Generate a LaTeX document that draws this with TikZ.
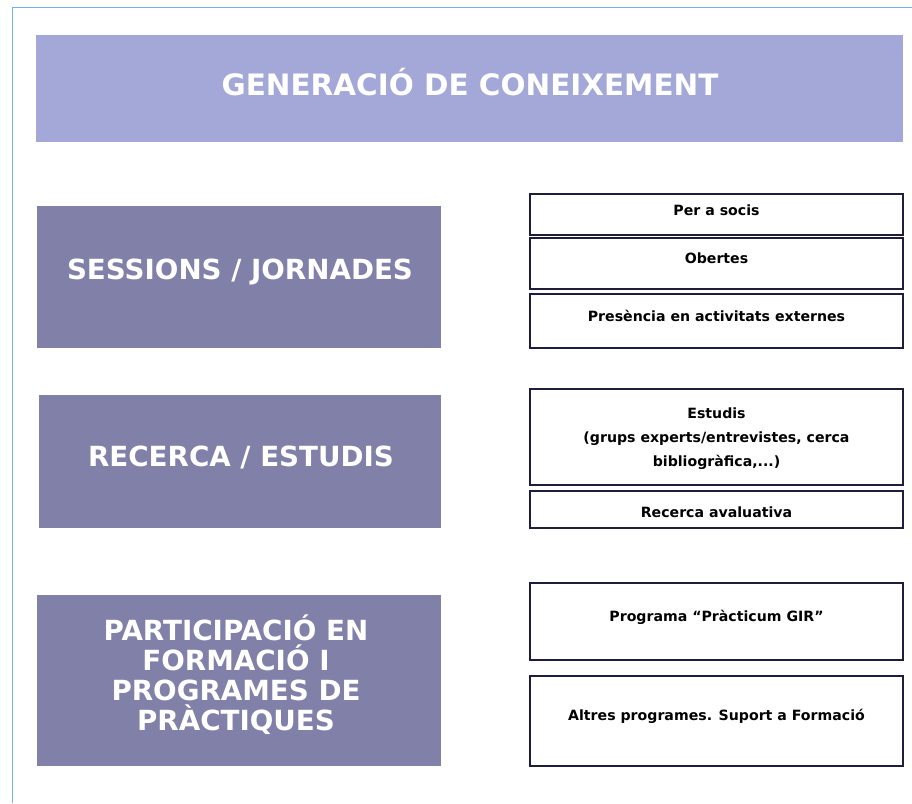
\documentclass[tikz,border=0pt]{standalone}
\usepackage{fontspec}
\setmainfont{DejaVu Sans}
\definecolor{titlefill}{HTML}{A3A8D8}
\definecolor{catfill}{HTML}{8080A8}
\definecolor{boxline}{HTML}{1E1E3C}
\definecolor{framecol}{HTML}{7AB0E0}
\begin{document}
\begin{tikzpicture}[x=0.75pt,y=-0.75pt,
  titlebox/.style={fill=titlefill,draw=none,minimum width=650.25pt,minimum height=80.25pt,inner sep=0pt},
  catbox/.style={fill=catfill,draw=none,minimum width=303pt,inner sep=0pt},
  itembox/.style={draw=boxline,line width=1.5pt,fill=white,minimum width=279.75pt,inner sep=0pt},
  titletext/.style={text=white,font=\bfseries\fontsize{22.1}{26}\selectfont,inner sep=0pt},
  cattext/.style={text=white,font=\bfseries\fontsize{20.8}{22.5}\selectfont,align=center,inner sep=0pt},
  itemtext/.style={text=black,font=\bfseries\fontsize{10.6}{18}\selectfont,align=center,inner sep=0pt}]
\useasboundingbox (0,0) rectangle (912,803);
\draw[framecol,line width=1.2pt] (12.5,803) -- (12.5,7.5) -- (912,7.5);
% title
\node[titlebox] (title) at (469.5,88.5) {};
\node[titletext] (titlet) at (470,82) {GENERACIÓ DE CONEIXEMENT};
% categories
\node[catbox,minimum height=106.5pt] (c1) at (239,277) {};
\node[cattext] (c1t) at (240,272) {SESSIONS / JORNADES};
\node[catbox,minimum width=301.5pt,minimum height=99.75pt] (c2) at (240,461.5) {};
\node[cattext] (c2t) at (241,457) {RECERCA / ESTUDIS};
\node[catbox,minimum height=128.25pt] (c3) at (239,680.5) {};
\node[cattext] (c3t) at (236,675) {PARTICIPACIÓ EN\\FORMACIÓ I\\PROGRAMES DE\\PRÀCTIQUES};
% items
\node[itembox,minimum height=30.75pt] (r1) at (716.5,214.5) {};
\node[itemtext] (r1t) at (716.5,210) {Per a socis};
\node[itembox,minimum height=38.25pt] (r2) at (716.5,263.5) {};
\node[itemtext] (r2t) at (716.5,258) {Obertes};
\node[itembox,minimum height=40.5pt] (r3) at (716.5,321) {};
\node[itemtext] (r3t) at (716.5,316) {Presència en activitats externes};
\node[itembox,minimum height=72pt] (r4) at (716.5,437) {};
\node[itemtext] (r4t) at (716.5,439) {Estudis\\(grups experts/entrevistes, cerca\\bibliogràfica,...)};
\node[itembox,minimum height=27.75pt] (r5) at (716.5,509.5) {};
\node[itemtext] (r5t) at (716.5,512) {Recerca avaluativa};
\node[itembox,minimum height=57.75pt] (r6) at (716.5,621.5) {};
\node[itemtext] (r6t) at (716.5,617) {Programa “Pràcticum GIR”};
\node[itembox,minimum height=67.5pt] (r7) at (716.5,721) {};
\node[itemtext] (r7t) at (716.5,716) {Altres programes. Suport a Formació};
\end{tikzpicture}
\end{document}
